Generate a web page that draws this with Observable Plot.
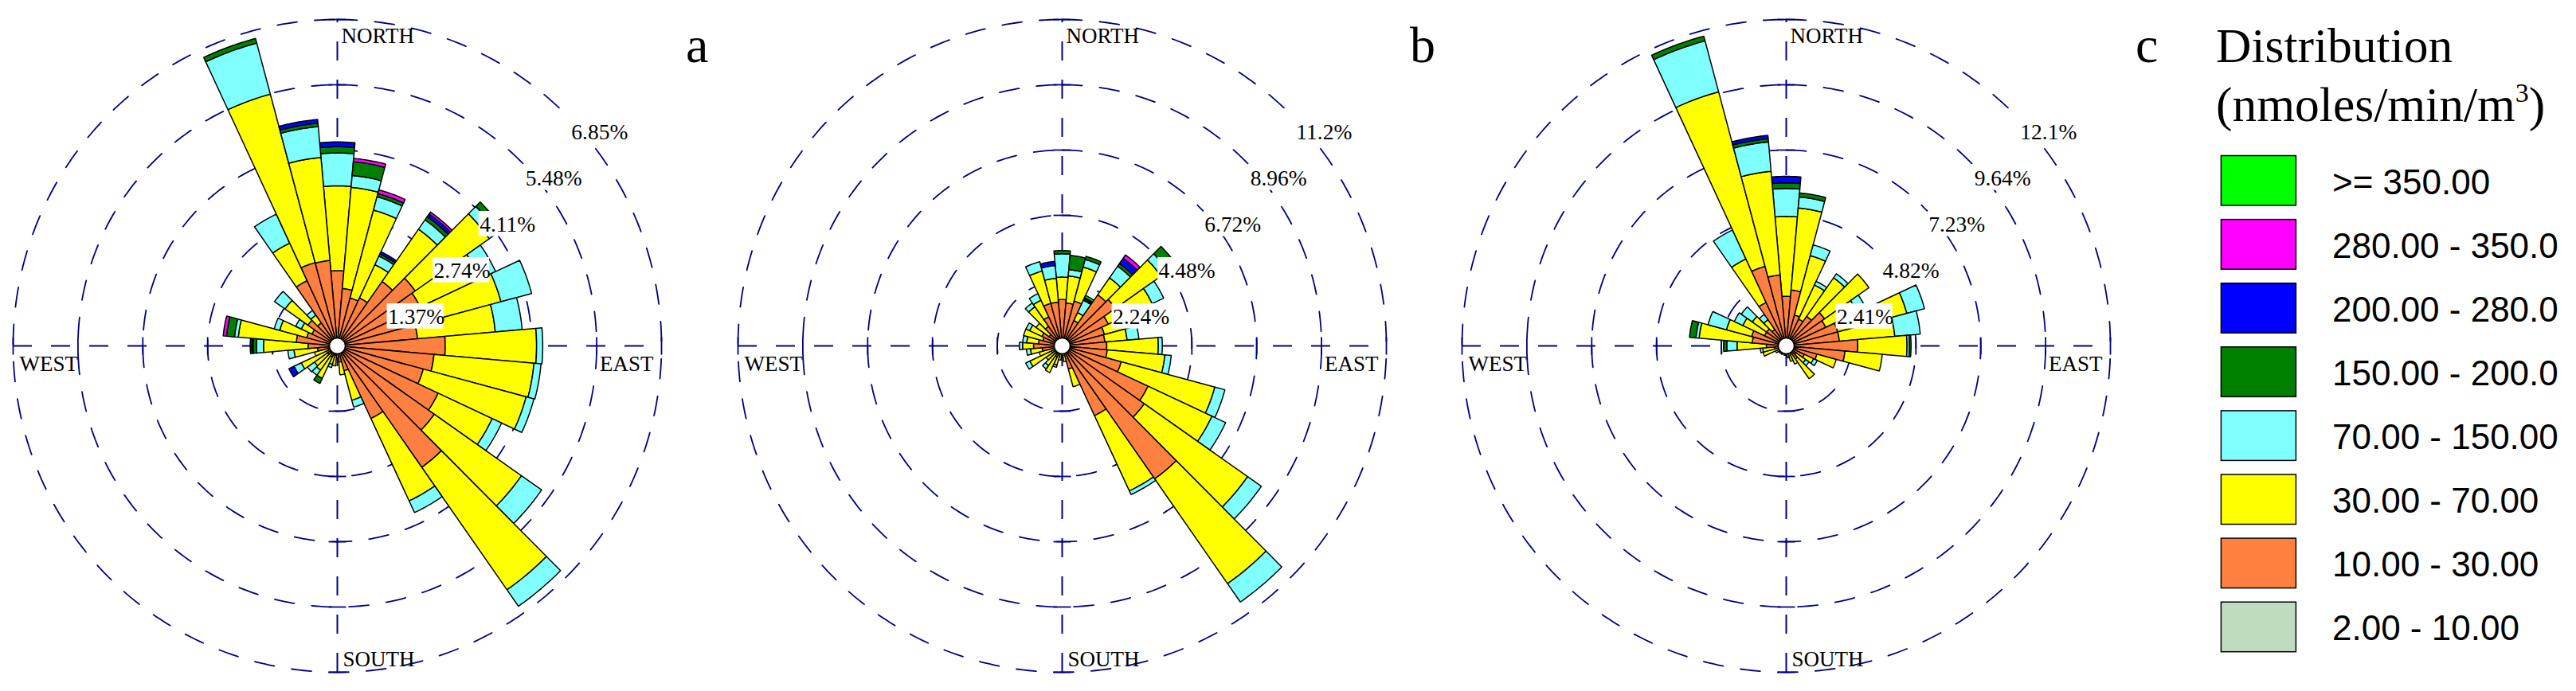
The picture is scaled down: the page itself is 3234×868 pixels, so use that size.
<!DOCTYPE html>
<html>
<head>
<meta charset="utf-8">
<script src="https://cdn.jsdelivr.net/npm/d3@7"></script>
<script src="https://cdn.jsdelivr.net/npm/@observablehq/plot@0.6"></script>
<style>
  html, body { margin: 0; padding: 0; background: #fff; }
  #chart { position: relative; width: 3234px; height: 868px; overflow: hidden; background: #fff; }
  .panel { position: absolute; top: 0; }
  #overlay { position: absolute; left: 0; top: 0; pointer-events: none; }
</style>
</head>
<body>
<div id="chart"></div>
<script>
// ---------------- DATA ----------------
const directions = [0,10,20,30,40,50,60,70,80,90,100,110,120,130,140,150,160,170,180,190,200,210,220,230,240,250,260,270,280,290,300,310,320,330,340,350];

// concentration bins, stacked from the centre outwards
const bins = ["2.00 - 10.00", "10.00 - 30.00", "30.00 - 70.00", "70.00 - 150.00", "150.00 - 200.0", "200.00 - 280.0", "280.00 - 350.0", ">= 350.00"];
const binColors = ["#c0dcc0", "#ff8040", "#ffff00", "#80ffff", "#008000", "#0000ff", "#ff00ff", "#00ff00"];

// ring tick labels
const ringsA = ["1.37%", "2.74%", "4.11%", "5.48%", "6.85%"];
const ringsB = ["2.24%", "4.48%", "6.72%", "8.96%", "11.2%"];
const ringsC = ["2.41%", "4.82%", "7.23%", "9.64%", "12.1%"];
const ringStepA = 1.37, ringStepB = 2.24, ringStepC = 2.41;

const compass = ["NORTH", "EAST", "SOUTH", "WEST"];
const panelLetters = ["a", "b", "c"];

// ---- panel a : frequency (%) per direction for each bin ----
const a_2_10    = [0,0,0,0,0,0,0,0,0,0,0,0,0,0,0,0,0,0,0,0,0,0,0,0,0,0,0,0,0,0,0,0,0,0,0,0];
const a_10_30   = [1.58,1.21,1.04,1.11,1.65,2.01,1.93,1.85,1.70,2.28,2.05,1.88,2.35,2.50,3.11,1.68,0.54,0.34,0,0.20,0.20,0.25,0.20,0.25,0.25,0.20,0.42,0.62,0.87,0.67,0.59,0.76,0.59,1.51,1.81,1.80];
const a_30_70   = [1.78,2.13,1.91,0.77,1.34,1.91,1.41,1.73,1.65,1.93,2.12,2.25,1.26,2.25,3.14,1.91,0.64,0.27,0.25,0.22,0.20,0.50,0.42,0.34,0.59,0.30,0.50,0.94,1.23,0.59,0.25,0.59,0.20,0.87,3.66,2.17];
const a_70_150  = [0.69,0.25,0.29,0.20,0.24,0.22,0.35,0.67,0.57,0.13,0.15,0.17,0.22,0.52,0.42,0.27,0.15,0,0,0,0.07,0,0.13,0.18,0.17,0,0.13,0.15,0.08,0.12,0.13,0.27,0.12,0.67,1.11,0.65];
const a_150_200 = [0.13,0.29,0.07,0.05,0.08,0.13,0,0,0,0,0,0,0,0,0,0,0,0,0,0,0,0.12,0,0,0,0,0,0.07,0.17,0,0,0,0,0,0.10,0.07];
const a_200_280 = [0.10,0,0,0.05,0.07,0,0,0,0,0,0,0,0,0,0,0,0,0,0,0,0,0,0,0,0.12,0,0,0.03,0,0,0,0,0,0,0,0.08];
const a_280_350 = [0,0.07,0.08,0,0.05,0,0,0,0,0,0,0,0,0,0,0,0,0,0,0,0,0,0,0,0,0,0,0.03,0.07,0,0,0,0,0,0,0];
const a_350     = [0,0,0,0,0,0,0,0,0,0,0,0,0,0,0,0,0,0,0,0,0,0,0,0,0,0,0,0,0,0,0,0,0,0,0,0];

// ---- panel b ----
const b_2_10    = [0,0,0,0,0,0,0,0,0,0,0,0,0,0,0,0,0,0,0,0,0,0,0,0,0,0,0,0,0,0,0,0,0,0,0,0];
const b_10_30   = [1.59,1.48,1.59,0.96,2.14,2.25,1.76,1.51,1.48,1.54,1.56,2.11,3.27,3.46,5.57,2.64,0.82,0.27,0,0.22,0.27,0.41,0.33,0.27,0.41,0.27,0.69,0.99,0.82,0.69,0.77,0.55,0.82,1.10,1.51,1.51];
const b_30_70   = [0.77,0.93,1.21,0.30,0.71,1.92,1.67,0.82,0.77,1.78,2.00,3.35,2.44,4.36,4.39,2.85,0.63,0.27,0.33,0.27,0.41,0.60,0.49,0.41,0.82,0.55,0.41,0.38,0.41,0.69,0.47,0.55,0.82,0.63,1.15,0.82];
const b_70_150  = [0.80,0.22,0.27,0.47,0.49,0.30,0.44,0,0.41,0.14,0.22,0.36,0.52,0.58,0.77,0.14,0,0,0,0,0.08,0,0.14,0,0.16,0,0.14,0.11,0.14,0,0.14,0,0.16,0.25,0.33,0.44];
const b_150_200 = [0.11,0.49,0.11,0.05,0.11,0.36,0,0,0,0,0,0,0,0,0,0,0,0,0,0,0,0,0,0,0,0,0,0,0,0,0,0,0,0,0,0];
const b_200_280 = [0,0,0,0.05,0.22,0,0,0,0,0,0,0,0,0,0,0,0,0,0,0,0,0,0,0,0,0,0,0,0,0,0,0,0,0,0,0.14];
const b_280_350 = [0,0,0,0,0.14,0,0,0,0,0,0,0,0,0,0,0,0,0,0,0,0,0,0,0,0,0,0,0,0,0,0,0,0,0,0,0];
const b_350     = [0,0,0,0.08,0,0,0,0,0,0,0,0,0,0,0,0,0,0,0,0,0,0,0,0,0,0,0,0,0,0,0,0,0,0,0,0];

// ---- panel c ----
const c_2_10    = [0,0,0,0,0,0,0,0,0,0,0,0,0,0,0,0,0,0,0,0,0,0,0,0,0,0,0,0,0,0,0,0,0,0,0,0];
const c_10_30   = [1.83,2.07,1.18,1.09,1.33,1.74,1.62,1.98,1.98,2.66,2.19,1.18,0.74,0.44,0.59,0.30,0.24,0,0,0,0,0,0,0,0,0.30,0.44,0.74,1.27,1.33,0.89,0.89,0.74,1.77,3.04,2.63];
const c_30_70   = [2.95,3.04,2.27,1.39,1.74,2.01,1.30,2.66,2.07,1.83,1.39,0.74,0.38,0.44,0.89,0.44,0.35,0.44,0.30,0.35,0.30,0.35,0.30,0.35,0.44,0.59,0.44,1.09,1.98,0.97,0.89,0.65,0.44,1.77,6.67,3.84];
const c_70_150  = [1.03,0.41,0.41,0.15,0.18,0,0.35,0.68,0.95,0.09,0,0,0.15,0.15,0,0,0,0,0,0,0,0,0,0,0,0,0.09,0.38,0.12,0.71,0.35,0.50,0.24,1.18,1.95,1.09];
const c_150_200 = [0.21,0.15,0,0,0,0,0,0,0,0.06,0,0,0,0,0,0,0,0,0,0,0,0,0,0,0,0,0,0.12,0.24,0,0,0,0,0,0.18,0.12];
const c_200_280 = [0.24,0,0,0,0,0,0,0,0,0,0,0,0,0,0,0,0,0,0,0,0,0,0,0,0,0,0,0,0,0,0,0,0,0,0,0.12];
const c_280_350 = [0,0,0,0,0,0,0,0,0,0,0,0,0,0,0,0,0,0,0,0,0,0,0,0,0,0,0,0,0,0,0,0,0,0,0,0];
const c_350     = [0,0,0,0,0,0,0,0,0,0,0,0,0,0,0,0,0,0,0,0,0,0,0,0,0,0,0,0,0,0,0,0,0,0,0,0];

// ---------------- LAYOUT ----------------
const W = 850, H = 868, RX = 407, RY = 410;
const MX = W / 2 - RX, MY = H / 2 - RY;
const NAVY = "#000080";
const SERIF = "'Liberation Serif', 'Times New Roman', serif";
const SANS = "'Liberation Sans', Arial, sans-serif";

const panels = [
  {cx: 423.3, step: ringStepA, labels: ringsA, series: [a_2_10, a_10_30, a_30_70, a_70_150, a_150_200, a_200_280, a_280_350, a_350]},
  {cx: 1332.5, step: ringStepB, labels: ringsB, series: [b_2_10, b_10_30, b_30_70, b_70_150, b_150_200, b_200_280, b_280_350, b_350]},
  {cx: 2241.7, step: ringStepC, labels: ringsC, series: [c_2_10, c_10_30, c_30_70, c_70_150, c_150_200, c_200_280, c_280_350, c_350]}
];

const rad = d => d * Math.PI / 180;
const polar = (r, a) => ({x: r * Math.sin(rad(a)), y: r * Math.cos(rad(a))});

function rose(P) {
  const rmax = P.step * 5;
  const ux = rmax / RX, uy = rmax / RY;   // data units per pixel

  // stacked wedges
  const wedgePts = [];
  directions.forEach((dir, i) => {
    let r0 = 0;
    bins.forEach((bin, j) => {
      const v = P.series[j][i];
      if (!v) return;
      const r1 = r0 + v, id = dir + "|" + bin, pts = [];
      for (let t = 0; t <= 10; t++) pts.push(polar(r1, dir - 5 + t));
      for (let t = 10; t >= 0; t--) pts.push(polar(r0, dir - 5 + t));
      pts.push(pts[0]);
      pts.forEach(p => wedgePts.push({id, bin, x: p.x, y: p.y}));
      r0 = r1;
    });
  });

  // dashed rings
  const ringPts = [];
  for (let k = 1; k <= 5; k++) for (let a = 0; a <= 360; a += 1) ringPts.push({k, ...polar(P.step * k, a)});

  // small ticks where rings cross the axes
  const tickLen = 11;
  const ticks = [];
  for (let k = 1; k <= 5; k++) {
    const r = P.step * k;
    ticks.push({x1: -tickLen * ux, x2: tickLen * ux, y1: r, y2: r});
    ticks.push({x1: -tickLen * ux, x2: tickLen * ux, y1: -r, y2: -r});
    ticks.push({x1: r, x2: r, y1: -tickLen * uy, y2: tickLen * uy});
    ticks.push({x1: -r, x2: -r, y1: -tickLen * uy, y2: tickLen * uy});
  }

  // ring labels at 45°
  const lab = P.labels.map((t, i) => {
    const p = polar(P.step * (i + 1), 45);
    const x1 = p.x + 5 * ux, y1 = p.y - 5 * uy;
    return {text: t, x1, x2: x1 + 71 * ux, y1, y2: y1 - 31.6 * uy};
  });

  const comp = [
    {t: compass[0], x: 0, y: rmax, dx: 5, dy: 10, anchor: "start"},
    {t: compass[1], x: rmax, y: 0, dx: -10, dy: 12, anchor: "end"},
    {t: compass[2], x: 0, y: -rmax, dx: 7, dy: -27, anchor: "start"},
    {t: compass[3], x: -rmax, y: 0, dx: 8, dy: 12, anchor: "start"}
  ];

  const plot = Plot.plot({
    width: W, height: H,
    marginLeft: MX, marginRight: MX, marginTop: MY, marginBottom: MY,
    x: {domain: [-rmax, rmax], axis: null},
    y: {domain: [-rmax, rmax], axis: null},
    color: {domain: bins, range: binColors},
    style: {background: "transparent", fontFamily: SERIF, overflow: "visible"},
    marks: [
      Plot.line(ringPts, {x: "x", y: "y", z: "k", stroke: NAVY, strokeWidth: 1.8, strokeDasharray: "25,22"}),
      Plot.ruleY([0], {x1: -rmax, x2: rmax, stroke: NAVY, strokeWidth: 2, strokeDasharray: "24,24"}),
      Plot.ruleX([0], {y1: -rmax, y2: rmax, stroke: NAVY, strokeWidth: 2, strokeDasharray: "24,24"}),
      Plot.link(ticks, {x1: "x1", y1: "y1", x2: "x2", y2: "y2", stroke: NAVY, strokeWidth: 1.8}),
      Plot.line(wedgePts, {x: "x", y: "y", z: "id", fill: "bin", stroke: "black", strokeWidth: 1.5, strokeLinejoin: "miter"}),
      Plot.dot([{x: 0, y: 0}], {x: "x", y: "y", r: 10, fill: "white", stroke: "black", strokeWidth: 1.5}),
      Plot.rect(lab, {x1: "x1", x2: "x2", y1: "y1", y2: "y2", fill: "white"}),
      Plot.text(lab, {x: d => d.x1 + ux, y: "y1", text: "text", textAnchor: "start", lineAnchor: "top", dy: 6, fontSize: 27.5, fill: "black"}),
      ...comp.map(c => Plot.text([c], {x: "x", y: "y", text: "t", textAnchor: c.anchor, lineAnchor: "top", dx: c.dx, dy: c.dy, fontSize: 27, fill: "black"}))
    ]
  });
  plot.classList.add("panel");
  plot.style.left = (P.cx - W / 2) + "px";
  return plot;
}

const chart = document.getElementById("chart");
panels.forEach(P => chart.appendChild(rose(P)));

// ---------------- letters + legend ----------------
const svg = d3.select(chart).append("svg").attr("id", "overlay").attr("width", 3234).attr("height", 868);
const letterX = [861, 1770, 2681];
panelLetters.forEach((l, i) => svg.append("text").attr("x", letterX[i]).attr("y", 77.5)
  .attr("font-family", SERIF).attr("font-size", 64).text(l));

const LX = 2782;
svg.append("text").attr("x", LX).attr("y", 77.5).attr("font-family", SERIF).attr("font-size", 61.5).text("Distribution");
const t2 = svg.append("text").attr("x", LX).attr("y", 152).attr("font-family", SERIF).attr("font-size", 61.5);
t2.append("tspan").text("(nmoles/min/m");
t2.append("tspan").attr("font-size", 34).attr("dy", -24).text("3");
t2.append("tspan").attr("dy", 24).text(")");

const legendOrder = bins.slice().reverse();
const legendColors = binColors.slice().reverse();
legendOrder.forEach((b, i) => {
  const y = 195.5 + i * 80.1;
  svg.append("rect").attr("x", 2788.4).attr("y", y).attr("width", 94).attr("height", 62.5)
    .attr("fill", legendColors[i]).attr("stroke", "black").attr("stroke-width", 1.5);
  svg.append("text").attr("x", 2928).attr("y", y + 48).attr("font-family", SANS).attr("font-size", 44).text(b);
});
</script>
</body>
</html>
